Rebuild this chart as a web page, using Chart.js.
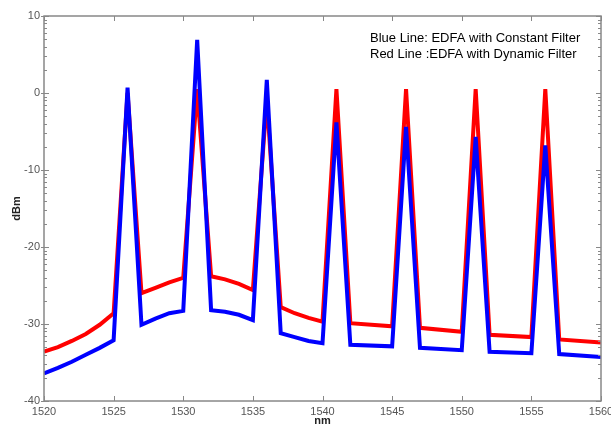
<!DOCTYPE html>
<html>
<head>
<meta charset="utf-8">
<script src="https://cdn.jsdelivr.net/npm/chart.js@4/dist/chart.umd.min.js"></script>
<style>
  body { margin: 0; background: #fff; }
  canvas { display: block; }
</style>
</head>
<body>
<canvas id="chart" width="611" height="425"></canvas>
<script>
// Data
const wavelengths = [1520, 1521, 1522, 1523, 1524, 1525, 1526, 1527, 1528, 1529, 1530,
    1531, 1532, 1533, 1534, 1535, 1536, 1537, 1538, 1539, 1540, 1541, 1542, 1545,
    1546, 1547, 1550, 1551, 1552, 1555, 1556, 1557, 1560];

const blueConstant = [-36.4, -35.7, -34.9, -34.0, -33.1, -32.1, 0.7, -30.1, -29.3, -28.6, -28.3,
    6.9, -28.2, -28.4, -28.8, -29.5, 1.7, -31.2, -31.7, -32.2, -32.5, -3.8, -32.7, -32.9,
    -4.4, -33.1, -33.4, -5.7, -33.6, -33.8, -6.8, -33.9, -34.3];

const redDynamic = [-33.6, -33.0, -32.2, -31.3, -30.1, -28.6, 0.0, -26.0, -25.3, -24.6, -24.0,
    0.5, -23.8, -24.2, -24.8, -25.6, -0.8, -27.8, -28.6, -29.2, -29.7, 0.5, -29.9, -30.3,
    0.5, -30.5, -31.0, 0.5, -31.4, -31.7, 0.5, -32.0, -32.4];

const xTicks = { min: 1520, max: 1560, step: 5 };
const yTicks = { min: -40, max: 10, step: 10 };

const legendLines = ['Blue Line: EDFA with Constant Filter', 'Red Line :EDFA with Dynamic Filter'];
const xTitle = 'nm';
const yTitle = 'dBm';

const FONT = "'Liberation Sans', Arial, sans-serif";

function toPoints(values) {
    return values.map((v, i) => ({ x: wavelengths[i], y: v }));
}

// Box, inward ticks, titles and the text legend
const framePlugin = {
    id: 'frame',
    afterDatasetsDraw(chart) {
        const ctx = chart.ctx;
        const area = chart.chartArea;
        const xs = chart.scales.x;
        const ys = chart.scales.y;

        ctx.save();
        ctx.strokeStyle = '#888';
        ctx.lineWidth = 1.5;
        ctx.strokeRect(area.left, area.top, area.right - area.left, area.bottom - area.top);

        ctx.lineWidth = 1;
        ctx.beginPath();
        xs.ticks.forEach(t => {
            const px = Math.round(xs.getPixelForValue(t.value)) + 0.5;
            ctx.moveTo(px, area.bottom); ctx.lineTo(px, area.bottom - 5);
            ctx.moveTo(px, area.top); ctx.lineTo(px, area.top + 5);
        });
        ys.ticks.forEach(t => {
            const py = Math.round(ys.getPixelForValue(t.value)) + 0.5;
            ctx.moveTo(area.left - 3, py); ctx.lineTo(area.left + 5, py);
            ctx.moveTo(area.right, py); ctx.lineTo(area.right - 5, py);
        });
        // minor ticks, bunched toward the top of each interval
        for (let v = yTicks.min; v < yTicks.max; v += yTicks.step) {
            for (let k = 2; k <= 9; k++) {
                const py = Math.round(ys.getPixelForValue(v + yTicks.step * Math.log10(k))) + 0.5;
                ctx.moveTo(area.left, py); ctx.lineTo(area.left + 3, py);
                ctx.moveTo(area.right, py); ctx.lineTo(area.right - 3, py);
            }
        }
        ctx.stroke();

        ctx.fillStyle = '#222';
        ctx.font = 'bold 11px ' + FONT;
        ctx.textAlign = 'center';
        ctx.textBaseline = 'top';
        ctx.fillText(xTitle, (area.left + area.right) / 2, 415);

        ctx.translate(17, (area.top + area.bottom) / 2);
        ctx.rotate(-Math.PI / 2);
        ctx.textBaseline = 'middle';
        ctx.fillText(yTitle, 0, 0);
        ctx.restore();

        ctx.save();
        ctx.fillStyle = '#000';
        ctx.font = '13px ' + FONT;
        ctx.textAlign = 'left';
        ctx.textBaseline = 'middle';
        legendLines.forEach((line, i) => ctx.fillText(line, 370, 38 + i * 16));
        ctx.restore();
    }
};

const chart = new Chart(document.getElementById('chart').getContext('2d'), {
    type: 'line',
    data: {
        datasets: [{
            label: 'EDFA with Constant Filter',
            data: toPoints(blueConstant),
            borderColor: '#0000ff',
            borderWidth: 4,
            borderJoinStyle: 'miter',
            pointRadius: 0,
            fill: false,
            tension: 0
        }, {
            label: 'EDFA with Dynamic Filter',
            data: toPoints(redDynamic),
            borderColor: '#ff0000',
            borderWidth: 4,
            borderJoinStyle: 'miter',
            pointRadius: 0,
            fill: false,
            tension: 0
        }]
    },
    options: {
        responsive: false,
        animation: false,
        layout: { padding: { top: 16, right: 10, left: 0, bottom: 0 } },
        plugins: {
            legend: { display: false },
            tooltip: { enabled: false }
        },
        scales: {
            x: {
                type: 'linear',
                min: xTicks.min,
                max: xTicks.max,
                grid: { display: false, drawTicks: false },
                border: { display: false },
                ticks: {
                    stepSize: xTicks.step,
                    autoSkip: false,
                    maxRotation: 0,
                    padding: 4,
                    color: '#555',
                    font: { family: FONT, size: 11 },
                    callback: (value) => String(value)
                },
                afterFit(scale) {
                    scale.height = 24;
                    scale.paddingLeft = 0;
                    scale.paddingRight = 0;
                }
            },
            y: {
                min: yTicks.min,
                max: yTicks.max,
                grid: { display: false, drawTicks: false },
                border: { display: false },
                ticks: {
                    stepSize: yTicks.step,
                    padding: 4,
                    color: '#555',
                    font: { family: FONT, size: 11 },
                    callback: (value) => String(value)
                },
                afterFit(scale) {
                    scale.width = 44;
                    scale.paddingTop = 0;
                    scale.paddingBottom = 0;
                }
            }
        }
    },
    plugins: [framePlugin]
});
</script>
</body>
</html>
